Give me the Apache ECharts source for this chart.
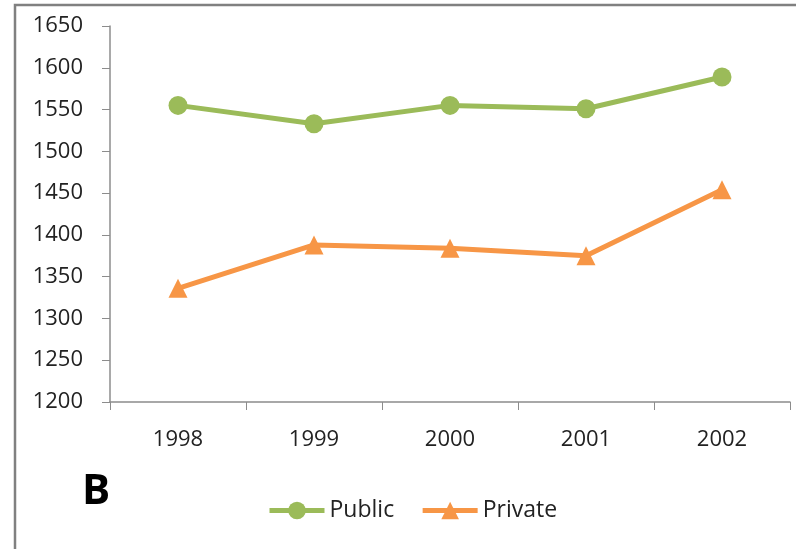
<!DOCTYPE html>
<html><head><meta charset="utf-8">
<script src="https://cdn.jsdelivr.net/npm/echarts@6/dist/echarts.min.js"></script>
<style>html,body{margin:0;padding:0;background:#fff}#c{width:796px;height:549px}</style>
</head><body><div id="c"></div>
<script>
var categories = ['1998','1999','2000','2001','2002'];
var publicValues = [1555, 1533, 1555, 1551, 1589];
var privateValues = [1336, 1388, 1384, 1375, 1454];
var seriesNames = ['Public','Private'];

var chart = echarts.init(document.getElementById('c'));
var font = '"Open Sans", "Noto Sans", sans-serif';
chart.setOption({
  animation: false,
  graphic: [
    {type:'rect', shape:{x:15,y:5,width:900,height:700}, style:{fill:'none', stroke:'#808080', lineWidth:2.5}, silent:true},
    {type:'text', x:82, y:492, style:{text:'B', font:'bold 42px ' + font, fill:'#000', textVerticalAlign:'middle'}}
  ],
  grid: {left:110, right:6, top:26, bottom:147},
  legend: {
    data: seriesNames, top: 494, left: 262, itemWidth: 55, itemHeight: 22, itemGap: 26,
    lineStyle: {width: 5},
    textStyle: {fontSize: 23, color: '#222', fontFamily: font}
  },
  xAxis: {
    type: 'category', data: categories, boundaryGap: true,
    axisLine: {lineStyle: {color: '#8c8c8c', width: 1.5}},
    axisTick: {show: true, length: 8, lineStyle: {color: '#8c8c8c'}},
    axisLabel: {fontSize: 22, color: '#222', margin: 27, fontFamily: font}
  },
  yAxis: {
    type: 'value', min: 1200, max: 1650, interval: 50,
    splitLine: {show: false},
    axisLine: {show: true, lineStyle: {color: '#8c8c8c', width: 1.5}},
    axisTick: {show: true, length: 8, lineStyle: {color: '#8c8c8c'}},
    axisLabel: {fontSize: 22, color: '#222', margin: 27, fontFamily: font, formatter: function (v) { return String(v); }}
  },
  series: [
    {name: seriesNames[0], type: 'line', data: publicValues, symbol: 'circle', symbolSize: 19,
     lineStyle: {color: '#9BBB59', width: 5}, itemStyle: {color: '#9BBB59'}},
    {name: seriesNames[1], type: 'line', data: privateValues, symbol: 'triangle', symbolSize: 19,
     lineStyle: {color: '#F79646', width: 5}, itemStyle: {color: '#F79646'}}
  ]
});
</script></body></html>
